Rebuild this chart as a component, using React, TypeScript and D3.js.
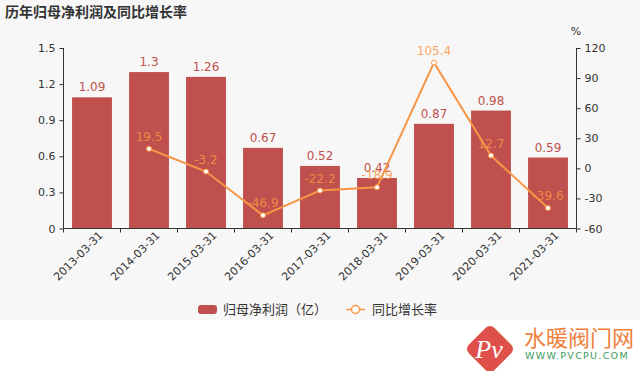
import React, { useEffect, useRef } from 'react';
import * as d3 from 'd3';

const categories = ['2013-03-31', '2014-03-31', '2015-03-31', '2016-03-31', '2017-03-31', '2018-03-31', '2019-03-31', '2020-03-31', '2021-03-31'];
const profit = [1.09, 1.3, 1.26, 0.67, 0.52, 0.42, 0.87, 0.98, 0.59];
const growth: (number | null)[] = [null, 19.5, -3.2, -46.9, -22.2, -18.9, 105.4, 12.7, -39.6];
const leftTicks = [0, 0.3, 0.6, 0.9, 1.2, 1.5];
const rightTicks = [-60, -30, 0, 30, 60, 90, 120];

const FONT = '"DejaVu Sans", "Noto Sans CJK SC", sans-serif';
const BAR = '#c0504d';
const LINE = '#f79646';

const App = () => {
  const ref = useRef<SVGSVGElement>(null);

  useEffect(() => {
    if (!ref.current) return;
    const svg = d3.select(ref.current);
    svg.selectAll('*').remove();

    const left = 63.5, right = 576.5, top = 48, bottom = 228.5;

    svg.append('rect').attr('width', 640).attr('height', 320).attr('fill', '#f7f7f7');

    // title
    svg.append('text').attr('x', 5).attr('y', 17).attr('font-family', FONT)
      .attr('font-size', 14).attr('font-weight', 'bold').attr('fill', '#333').text('历年归母净利润及同比增长率');

    const x = d3.scaleBand().domain(categories).range([left, right]).paddingInner(0).paddingOuter(0);
    const y = d3.scaleLinear().domain([0, 1.5]).range([bottom, top]);
    const y2 = d3.scaleLinear().domain([-60, 120]).range([bottom, top]);
    const bw = x.bandwidth() * 0.7;

    // bars
    svg.append('g').selectAll('rect').data(profit).enter().append('rect')
      .attr('x', (d, i) => x(categories[i])! + (x.bandwidth() - bw) / 2)
      .attr('width', bw)
      .attr('y', d => y(d))
      .attr('height', d => y(0) - y(d))
      .attr('fill', BAR);

    // left axis
    const la = svg.append('g').attr('transform', `translate(${left},0)`)
      .call(d3.axisLeft(y).tickValues(leftTicks).tickSize(4).tickPadding(4).tickFormat(d => String(d)));
    // right axis
    const ra = svg.append('g').attr('transform', `translate(${right},0)`)
      .call(d3.axisRight(y2).tickValues(rightTicks).tickSize(4).tickPadding(4).tickFormat(d => String(d)));
    // bottom axis
    const ba = svg.append('g').attr('transform', `translate(0,${bottom})`)
      .call(d3.axisBottom(x).tickSize(0).tickPadding(8));
    ba.selectAll('.tick text')
      .attr('text-anchor', 'end')
      .attr('transform', 'translate(2,-2) rotate(-45)')
      .attr('dy', '0.5em');
    ba.selectAll('.boundary').data(d3.range(categories.length + 1)).enter().append('line')
      .attr('x1', i => left + i * x.bandwidth()).attr('x2', i => left + i * x.bandwidth())
      .attr('y1', 0).attr('y2', 4).attr('stroke', '#333');

    [la, ra, ba].forEach(g => {
      g.selectAll('.domain').attr('stroke', '#333').attr('d', null);
      g.selectAll('line').attr('stroke', '#333');
      g.selectAll('text').attr('fill', '#333').attr('font-family', FONT).attr('font-size', 11);
    });
    la.select('.domain').attr('d', `M0,${top}V${bottom}`);
    ra.select('.domain').attr('d', `M0,${top}V${bottom}`);
    ba.select('.domain').attr('d', `M${left},0H${right}`);

    svg.append('text').attr('x', 576).attr('y', 35).attr('text-anchor', 'middle')
      .attr('font-family', FONT).attr('font-size', 11).attr('fill', '#333').text('%');

    // bar labels
    svg.append('g').selectAll('text').data(profit).enter().append('text')
      .attr('x', (d, i) => x(categories[i])! + x.bandwidth() / 2)
      .attr('y', d => y(d) - 6)
      .attr('text-anchor', 'middle').attr('font-family', FONT).attr('font-size', 12)
      .attr('fill', BAR).text(d => String(d));

    // line
    const pts = growth.map((v, i) => ({ v, c: categories[i] })).filter(p => p.v !== null) as { v: number; c: string }[];
    const line = d3.line<{ v: number; c: string }>()
      .x(p => x(p.c)! + x.bandwidth() / 2).y(p => y2(p.v));
    svg.append('path').datum(pts).attr('d', line).attr('fill', 'none').attr('stroke', LINE).attr('stroke-width', 2);
    svg.append('g').selectAll('circle').data(pts).enter().append('circle')
      .attr('cx', p => x(p.c)! + x.bandwidth() / 2).attr('cy', p => y2(p.v)).attr('r', 2.5)
      .attr('fill', '#fff').attr('stroke', LINE).attr('stroke-width', 1);
    svg.append('g').selectAll('text').data(pts).enter().append('text')
      .attr('x', p => x(p.c)! + x.bandwidth() / 2).attr('y', p => y2(p.v) - 8)
      .attr('text-anchor', 'middle').attr('font-family', FONT).attr('font-size', 12)
      .attr('fill', LINE).attr('fill-opacity', 0.85).text(p => String(p.v));

    // legend
    const lg = svg.append('g');
    lg.append('rect').attr('x', 198).attr('y', 305).attr('width', 19).attr('height', 9).attr('rx', 3).attr('fill', BAR);
    lg.append('text').attr('x', 223).attr('y', 314).attr('font-family', FONT).attr('font-size', 13).attr('fill', '#333').text('归母净利润（亿）');
    lg.append('line').attr('x1', 346).attr('x2', 365).attr('y1', 309.5).attr('y2', 309.5).attr('stroke', LINE).attr('stroke-width', 1.5);
    lg.append('circle').attr('cx', 355.5).attr('cy', 309.5).attr('r', 4).attr('fill', '#fff').attr('stroke', LINE).attr('stroke-width', 1.5);
    lg.append('text').attr('x', 372).attr('y', 314).attr('font-family', FONT).attr('font-size', 13).attr('fill', '#333').text('同比增长率');

    // watermark
    const wm = svg.append('g');
    wm.append('rect').attr('x', -18).attr('y', -18).attr('width', 36).attr('height', 36).attr('rx', 6)
      .attr('fill', '#e0504a').attr('transform', 'translate(490,349) rotate(45)');
    wm.append('text').attr('x', 489).attr('y', 358).attr('text-anchor', 'middle')
      .attr('font-family', '"Liberation Serif", serif').attr('font-style', 'italic').attr('font-size', 26)
      .attr('fill', '#fff').text('Pv');
    wm.append('text').attr('x', 524).attr('y', 346).attr('font-family', '"Noto Sans CJK SC", sans-serif')
      .attr('font-size', 22).attr('fill', '#f0803c').text('水暖阀门网');
    wm.append('text').attr('x', 525).attr('y', 359).attr('font-family', FONT).attr('font-size', 9.5)
      .attr('letter-spacing', 1.3).attr('fill', '#3a9a5a').text('WWW.PVCPU.COM');
  }, []);

  return <svg ref={ref} width={640} height={371} style={{ display: 'block', position: 'absolute', left: 0, top: 0 }} />;
};

export default App;
